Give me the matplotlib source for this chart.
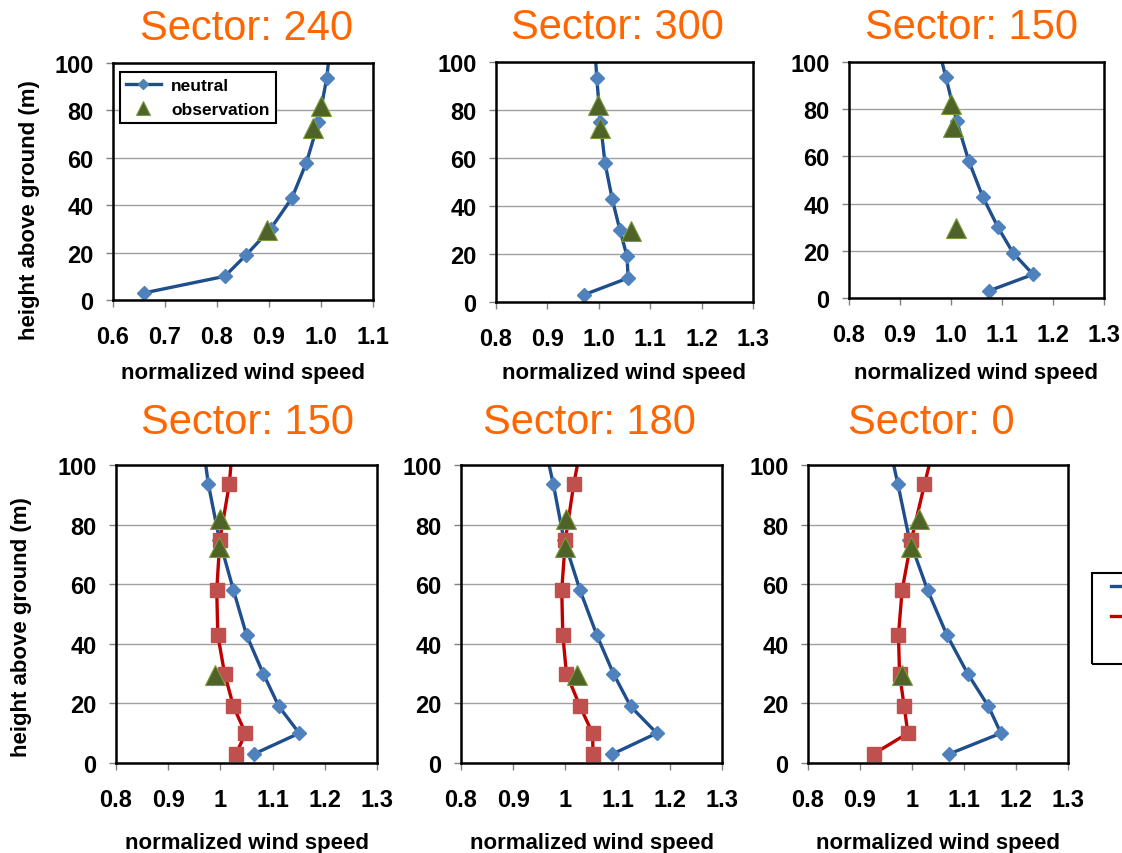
import matplotlib
matplotlib.use("Agg")
import matplotlib.pyplot as plt
from matplotlib.patches import Rectangle

plt.rcParams['font.family'] = ['Liberation Sans', 'DejaVu Sans']

# heights of the model levels and of the measurements (m)
heights = [3, 10, 19, 30, 43, 58, 75, 93.5, 114]
obs_heights = [29.5, 72.5, 82]

titles = ["Sector: 240", "Sector: 300", "Sector: 150",
          "Sector: 150", "Sector: 180", "Sector: 0"]

# neutral profiles, one per panel
neutral = [
    [0.66, 0.815, 0.856, 0.903, 0.944, 0.972, 0.995, 1.011, 1.021],
    [0.971, 1.057, 1.055, 1.041, 1.026, 1.012, 1.003, 0.996, 0.990],
    [1.074, 1.161, 1.122, 1.092, 1.062, 1.035, 1.011, 0.990, 0.966],
    [1.064, 1.151, 1.112, 1.082, 1.050, 1.025, 0.998, 0.977, 0.961],
    [1.090, 1.175, 1.125, 1.092, 1.060, 1.028, 0.997, 0.977, 0.951],
    [1.071, 1.171, 1.147, 1.107, 1.067, 1.030, 0.995, 0.973, 0.947],
]
# stable profiles (bottom row only)
stable = [
    None, None, None,
    [1.030, 1.048, 1.025, 1.008, 0.995, 0.993, 0.999, 1.017, 1.027],
    [1.053, 1.052, 1.028, 1.002, 0.995, 0.993, 1.000, 1.016, 1.038],
    [0.926, 0.992, 0.985, 0.976, 0.974, 0.981, 0.999, 1.024, 1.053],
]
observation = [
    [0.897, 0.985, 1.0],
    [1.063, 1.002, 0.998],
    [1.010, 1.004, 1.0],
    [0.990, 0.998, 0.999],
    [1.022, 0.999, 1.001],
    [0.980, 0.998, 1.014],
]

xticks_top_left = [0.6, 0.7, 0.8, 0.9, 1.0, 1.1]
xlabels_top_left = ["0.6", "0.7", "0.8", "0.9", "1.0", "1.1"]
xticks = [0.8, 0.9, 1.0, 1.1, 1.2, 1.3]
xlabels_top = ["0.8", "0.9", "1.0", "1.1", "1.2", "1.3"]
xlabels_bottom = ["0.8", "0.9", "1", "1.1", "1.2", "1.3"]
yticks = [0, 20, 40, 60, 80, 100]

# colours
c_line_blue = "#1F4E8C"
c_mark_blue = "#4F81BD"
c_line_red = "#C00000"
c_mark_red = "#C0504D"
c_obs = "#4F6228"
c_orange = "#FF6600"

W, H = 1122, 854
fig = plt.figure(figsize=(W / 100, H / 100), dpi=100)

# axes rectangles in pixels: left, top, right, bottom
boxes = [(113, 64, 373, 301), (496, 63, 753, 303), (849, 63, 1104, 299),
         (116, 466, 377, 764), (461, 466, 722, 764), (808, 466, 1068, 764)]
title_x = [0.515, 0.471, 0.482, 0.502, 0.494, 0.473]

for i in range(6):
    l, t, r, b = boxes[i]
    ax = fig.add_axes([l / W, 1 - b / H, (r - l) / W, (b - t) / H])

    ax.plot(neutral[i], heights, color=c_line_blue, lw=2.4, marker="D", ms=7,
            mfc=c_mark_blue, mec=c_mark_blue, label="neutral")
    if stable[i] is not None:
        ax.plot(stable[i], heights, color=c_line_red, lw=2.4, marker="s", ms=10,
                mfc=c_mark_red, mec=c_mark_red, label="stable")
    ax.plot(observation[i], obs_heights, ls="none", marker="^", ms=14,
            mfc=c_obs, mec="#7A9A3A", mew=0.8, label="observation")

    if i == 0:
        ax.set_xlim(0.6, 1.1)
        ax.set_xticks(xticks_top_left)
        ax.set_xticklabels(xlabels_top_left)
    else:
        ax.set_xlim(0.8, 1.3)
        ax.set_xticks(xticks)
        ax.set_xticklabels(xlabels_top if i < 3 else xlabels_bottom)
    ax.set_ylim(0, 100)
    ax.set_yticks(yticks)

    ax.grid(axis="y", color="#A0A0A0", lw=1)
    ax.set_axisbelow(True)
    for s in ax.spines.values():
        s.set_color("black")
        s.set_linewidth(1.8)
    ax.tick_params(axis="both", direction="out", length=5, width=1,
                   color="#808080", labelsize=17)
    ax.tick_params(axis="x", pad=13)
    ax.tick_params(axis="y", pad=9)
    for lab in ax.get_xticklabels() + ax.get_yticklabels():
        lab.set_fontweight("bold")

    ax.set_title(titles[i], fontsize=30, color=c_orange, x=title_x[i],
                 pad=17 if i < 3 else 23)

    ax.set_xlabel("normalized wind speed", fontsize=16, fontweight="bold")
    ax.xaxis.set_label_coords(0.5, -((363 if i < 3 else 833) - b) / (b - t))

    if i == 0:
        ax.set_ylabel("height above ground (m)", fontsize=16, fontweight="bold")
        ax.yaxis.set_label_coords((40 - l) / (r - l), (b - 210) / (b - t))
        leg = ax.legend(loc="upper left", bbox_to_anchor=(0.027, 0.962),
                        prop={"weight": "bold", "size": 12.5}, fancybox=False,
                        edgecolor="black", framealpha=1, borderaxespad=0,
                        handletextpad=0.6, labelspacing=0.5, borderpad=0.35,
                        markerscale=0.75)
        leg.get_frame().set_linewidth(1.5)
    if i == 3:
        ax.set_ylabel("height above ground (m)", fontsize=16, fontweight="bold")
        ax.yaxis.set_label_coords((32 - l) / (r - l), (b - 627) / (b - t))
    if i == 5:
        # legend at the right edge, mostly outside the picture
        h, lb = ax.get_legend_handles_labels()
        fig.legend(h, lb, loc="upper left",
                   bbox_to_anchor=(1111 / W, 1 - 581 / H),
                   prop={"weight": "bold", "size": 12.5}, frameon=False,
                   borderaxespad=0, borderpad=0, labelspacing=0.85,
                   handlelength=3.0)
        fig.patches.append(Rectangle((1092 / W, 1 - 665 / H), 60 / W, 91 / H,
                                     transform=fig.transFigure, fill=False,
                                     edgecolor="black", lw=1.5))

plt.savefig("out.png", dpi=100)
